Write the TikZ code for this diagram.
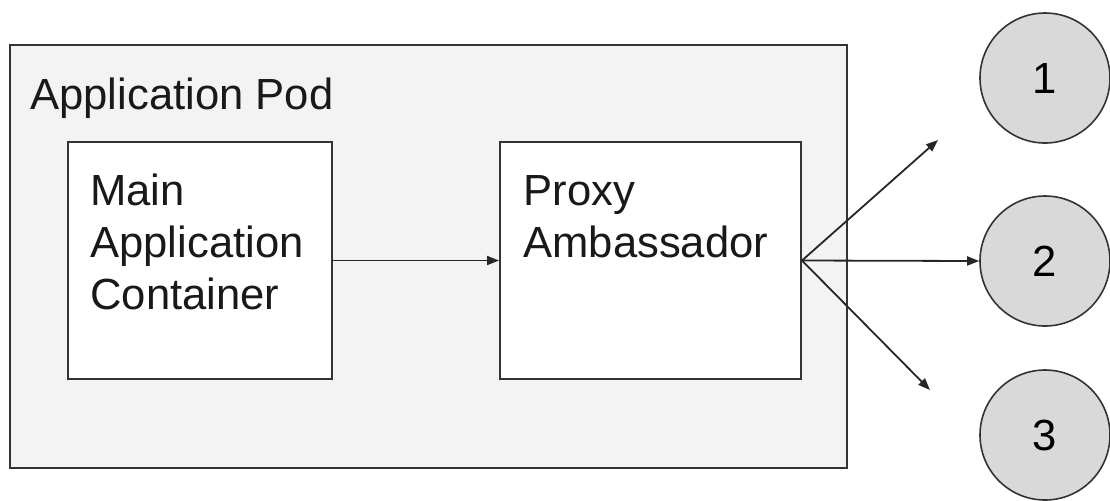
\documentclass[tikz,border=0pt]{standalone}
\usepackage{fontspec}
\setmainfont{Liberation Sans}
\usetikzlibrary{arrows.meta}

\definecolor{podgray}{HTML}{F3F3F3}
\definecolor{circgray}{HTML}{D9D9D9}
\definecolor{edgegray}{HTML}{333333}

\begin{document}
\begin{tikzpicture}[
            x=0.5pt, y=-0.5pt,
            pod/.style={draw=edgegray, line width=1pt, fill=podgray, minimum width=418.5pt, minimum height=211.5pt, inner sep=0pt},
            container/.style={draw=edgegray, line width=1pt, fill=white, minimum height=118.5pt, inner sep=0pt},
            service/.style={circle, draw=edgegray, line width=0.8pt, fill=circgray, minimum size=65pt, inner sep=0pt},
            boxtext/.style={anchor=north west, inner sep=0pt, align=left, text=black!90},
            pile/.style={line width=0.9pt, draw=black!85, -{Triangle[length=6pt,width=4.5pt]}},
            every node/.style={font=\fontsize{21.8}{26}\selectfont}
            ]
            \useasboundingbox (0,0) rectangle (1110,500);

            % pod and its containers
            \node[pod] (pod) at (428.5,256.5) {};
            \node[boxtext] (podlabel) at (30,77) {Application Pod};

            \node[container, minimum width=132pt] (main) at (200,260.5) {};
            \node[boxtext] (maintext) at (90,173) {Main\\Application\\Container};

            \node[container, minimum width=150.5pt] (proxy) at (650.5,260.5) {};
            \node[boxtext] (proxytext) at (523,175) {Proxy\\Ambassador};

            % services
            \node[service] (s1) at (1045,78) {1};
            \node[service] (s2) at (1045,261) {2};
            \node[service] (s3) at (1045,435) {3};

            \coordinate (up) at (938,140);
            \coordinate (down) at (930,390);

            % connectors
            \draw[pile] (main.east) -- (proxy.west);
            \draw[pile] (proxy.east) -- (up);
            \draw[pile] (proxy.east) -- (s2.west);
            \draw[pile] (proxy.east) -- (down);

        \end{tikzpicture}
\end{document}
